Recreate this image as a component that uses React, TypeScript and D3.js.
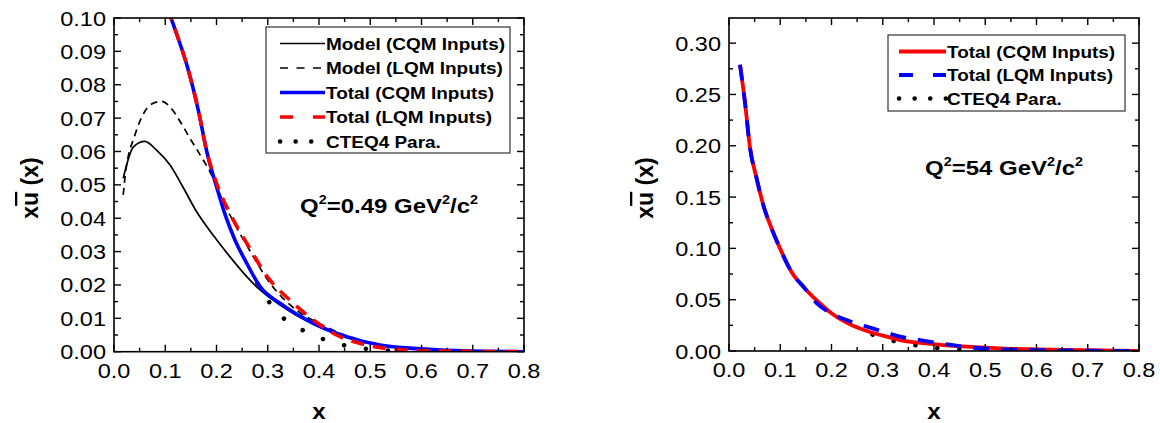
import React, { useEffect, useRef } from "react";
import * as d3 from "d3";

// ---- data ----
const xTickLabels = [0.0, 0.1, 0.2, 0.3, 0.4, 0.5, 0.6, 0.7, 0.8];
const leftYTickLabels = [0.0, 0.01, 0.02, 0.03, 0.04, 0.05, 0.06, 0.07, 0.08, 0.09, 0.1];
const rightYTickLabels = [0.0, 0.05, 0.1, 0.15, 0.2, 0.25, 0.3];

// Q^2 = 0.49 GeV^2/c^2
const leftModelCqmX = [0.018, 0.038, 0.06, 0.083, 0.109, 0.135, 0.161, 0.194, 0.226, 0.259, 0.285, 0.324, 0.389, 0.454, 0.519, 0.584, 0.65, 0.72, 0.8];
const leftModelCqmY = [0.052, 0.0614, 0.063, 0.0604, 0.056, 0.0492, 0.042, 0.0348, 0.0285, 0.0225, 0.0185, 0.014, 0.0082, 0.0043, 0.0019, 0.0009, 0.0004, 0.0001, 0];
const leftModelLqmX = [0.018, 0.022, 0.041, 0.06, 0.077, 0.093, 0.109, 0.129, 0.148, 0.168, 0.187, 0.213, 0.24, 0.27, 0.3, 0.33, 0.36, 0.4, 0.45, 0.5, 0.57, 0.65, 0.72, 0.8];
const leftModelLqmY = [0.047, 0.053, 0.065, 0.072, 0.0745, 0.075, 0.0734, 0.069, 0.064, 0.059, 0.054, 0.045, 0.037, 0.029, 0.0215, 0.016, 0.012, 0.0085, 0.005, 0.0027, 0.001, 0.0003, 0.0001, 0];
const leftTotalCqmX = [0.104, 0.125, 0.142, 0.165, 0.181, 0.2, 0.217, 0.236, 0.259, 0.285, 0.324, 0.389, 0.454, 0.519, 0.584, 0.65, 0.72, 0.8];
const leftTotalCqmY = [0.103, 0.094, 0.086, 0.072, 0.06, 0.0495, 0.041, 0.0335, 0.0265, 0.0195, 0.0145, 0.0085, 0.0045, 0.002, 0.001, 0.0004, 0.0001, 0];
const leftTotalLqmX = [0.104, 0.125, 0.142, 0.165, 0.181, 0.2, 0.226, 0.259, 0.304, 0.343, 0.389, 0.434, 0.493, 0.571, 0.65, 0.8];
const leftTotalLqmY = [0.103, 0.094, 0.086, 0.072, 0.06, 0.0505, 0.0415, 0.0325, 0.0215, 0.0155, 0.0095, 0.005, 0.002, 0.0005, 0.0002, 0];
const leftCteqX = [0.28, 0.317, 0.356, 0.396, 0.434, 0.477, 0.52, 0.56];
const leftCteqY = [0.0205, 0.012, 0.0075, 0.0045, 0.0025, 0.0012, 0.0005, 0.0001];

// Q^2 = 54 GeV^2/c^2
const rightTotalCqmX = [0.0215, 0.031, 0.041, 0.054, 0.067, 0.083, 0.0995, 0.122, 0.148, 0.174, 0.2, 0.239, 0.272, 0.3, 0.334, 0.399, 0.464, 0.529, 0.6, 0.659, 0.73, 0.8];
const rightTotalCqmY = [0.279, 0.243, 0.198, 0.168, 0.142, 0.1196, 0.1, 0.077, 0.061, 0.048, 0.0367, 0.0253, 0.019, 0.015, 0.0107, 0.0068, 0.0042, 0.0026, 0.0016, 0.001, 0.0005, 0.0002];
const rightTotalLqmX = [0.0215, 0.031, 0.041, 0.054, 0.067, 0.083, 0.0995, 0.122, 0.148, 0.171, 0.197, 0.236, 0.269, 0.308, 0.334, 0.373, 0.399, 0.444, 0.464, 0.516, 0.59, 0.7, 0.8];
const rightTotalLqmY = [0.279, 0.243, 0.198, 0.168, 0.142, 0.1196, 0.1, 0.077, 0.061, 0.0465, 0.0373, 0.029, 0.0237, 0.0178, 0.014, 0.0107, 0.0085, 0.0052, 0.0038, 0.002, 0.001, 0.0003, 0];
const rightCteqX = [0.28, 0.301, 0.343, 0.382, 0.421, 0.46, 0.5];
const rightCteqY = [0.016, 0.0124, 0.0075, 0.0042, 0.0022, 0.001, 0.0003];

const FONT = "'Liberation Sans', Arial, sans-serif";

const App = () => {
  const svgRef = useRef(null);

  useEffect(() => {
    const svg = d3.select(svgRef.current);
    svg.selectAll("*").remove();

    // scaled text helper (the figure's fonts are a bit wide)
    const label = (g, x, y, txt, size, opts: any = {}) =>
      g
        .append("text")
        .attr("transform", `translate(${x},${y}) scale(${opts.sx ?? 1},1)`)
        .attr("text-anchor", opts.anchor ?? "start")
        .attr("font-family", FONT)
        .attr("font-size", size)
        .attr("font-weight", opts.bold ? "bold" : "normal")
        .attr("fill", "#000")
        .text(txt);

    const panel = (cfg) => {
      const { id, left, right, top, bottom, yMax, yTicks, yMinorStep, yFmt } = cfg;
      const g = svg.append("g");
      const x = d3.scaleLinear().domain([0, 0.8]).range([left, right]);
      const y = d3.scaleLinear().domain([0, yMax]).range([bottom, top]);

      g.append("clipPath").attr("id", id).append("rect")
        .attr("x", left).attr("y", top).attr("width", right - left).attr("height", bottom - top);

      const curves = g.append("g").attr("clip-path", `url(#${id})`);
      const line = d3.line().x((d) => x(d[0])).y((d) => y(d[1])).curve(d3.curveMonotoneX);

      cfg.series.forEach((s) => {
        const p = curves.append("path")
          .datum(d3.zip(s.xs, s.ys))
          .attr("fill", "none")
          .attr("stroke", s.color)
          .attr("stroke-width", s.width)
          .attr("stroke-linejoin", "round")
          .attr("d", line);
        if (s.dash) p.attr("stroke-dasharray", s.dash);
        if (s.dotted) p.attr("stroke-dasharray", "0.1,22").attr("stroke-linecap", "round");
      });

      // frame
      g.append("rect")
        .attr("x", left).attr("y", top).attr("width", right - left).attr("height", bottom - top)
        .attr("fill", "none").attr("stroke", "#000").attr("stroke-width", 1.6);

      // ticks on all four sides, pointing in
      const ticks = g.append("g").attr("stroke", "#000").attr("stroke-width", 1.4);
      d3.range(0, 0.8001, 0.05).forEach((v, i) => {
        const len = i % 2 === 0 ? 7 : 4;
        ticks.append("line").attr("x1", x(v)).attr("x2", x(v)).attr("y1", bottom).attr("y2", bottom - len);
        ticks.append("line").attr("x1", x(v)).attr("x2", x(v)).attr("y1", top).attr("y2", top + len);
      });
      d3.range(0, yMax + 1e-9, yMinorStep).forEach((v, i) => {
        const len = i % 2 === 0 ? 7 : 4;
        ticks.append("line").attr("y1", y(v)).attr("y2", y(v)).attr("x1", left).attr("x2", left + len);
        ticks.append("line").attr("y1", y(v)).attr("y2", y(v)).attr("x1", right).attr("x2", right - len);
      });

      // tick labels
      xTickLabels.forEach((v) => label(g, x(v), bottom + 26, d3.format(".1f")(v), 21, { anchor: "middle", sx: 1.12 }));
      yTicks.forEach((v) => label(g, left - 8, y(v) + 7.5, d3.format(yFmt)(v), 21, { anchor: "end", sx: 1.12 }));

      // axis titles
      label(g, (left + right) / 2, 419, "x", 22, { anchor: "middle", bold: true, sx: 1.1 });
      const yt = g.append("text")
        .attr("transform", `translate(${cfg.yTitleX},188) rotate(-90)`)
        .attr("text-anchor", "middle")
        .attr("font-family", FONT)
        .attr("font-size", 23)
        .attr("font-weight", "bold");
      yt.append("tspan").text("x");
      yt.append("tspan").style("text-decoration", "overline").text("u");
      yt.append("tspan").text(" (x)");

      // Q^2 annotation
      const an = g.append("text")
        .attr("transform", `translate(${cfg.note.x},${cfg.note.y}) scale(1.2,1)`)
        .attr("font-family", FONT)
        .attr("font-size", 20)
        .attr("font-weight", "bold");
      cfg.note.parts.forEach(([t, sup]) => {
        if (sup) an.append("tspan").attr("font-size", 12).attr("dy", -9).text(t);
        else an.append("tspan").attr("dy", an.selectAll("tspan").size() ? 9 : 0).text(t);
      });

      // legend
      const lg = cfg.legend;
      g.append("rect")
        .attr("x", lg.x).attr("y", lg.y).attr("width", lg.w).attr("height", lg.h)
        .attr("fill", "#fff").attr("stroke", "#333").attr("stroke-width", 1.2);
      lg.items.forEach((it, i) => {
        const ry = lg.y + lg.first + i * lg.step;
        const l = g.append("line")
          .attr("x1", lg.x + lg.pad).attr("x2", lg.x + lg.pad + lg.len)
          .attr("y1", ry).attr("y2", ry)
          .attr("stroke", it.color).attr("stroke-width", it.width);
        if (it.dash) l.attr("stroke-dasharray", it.dash);
        if (it.dotted) l.attr("stroke-dasharray", "0.1,15.5").attr("stroke-linecap", "round");
        label(g, lg.x + lg.pad + lg.len + 1, ry + 6, it.label, 16.5, { bold: true, sx: 1.15 });
      });
    };

    panel({
      id: "clipL", left: 114, right: 524, top: 18, bottom: 351.7,
      yMax: 0.1, yTicks: leftYTickLabels, yMinorStep: 0.005, yFmt: ".2f", yTitleX: 38,
      series: [
        { xs: leftModelCqmX, ys: leftModelCqmY, color: "#000", width: 1.7 },
        { xs: leftModelLqmX, ys: leftModelLqmY, color: "#000", width: 1.7, dash: "7,5" },
        { xs: leftCteqX, ys: leftCteqY, color: "#000", width: 4.5, dotted: true },
        { xs: leftTotalCqmX, ys: leftTotalCqmY, color: "#0000ff", width: 3.6 },
        { xs: leftTotalLqmX, ys: leftTotalLqmY, color: "#ff0000", width: 3.6, dash: "13,9" },
      ],
      note: { x: 300, y: 204, parts: [["Q", false], ["2", true], ["=0.49 GeV", false], ["2", true], ["/c", false], ["2", true]] },
      legend: {
        x: 266, y: 27, w: 244, h: 126, first: 16.5, step: 24.5, pad: 14, len: 45,
        items: [
          { label: "Model (CQM Inputs)", color: "#000", width: 1.7 },
          { label: "Model (LQM Inputs)", color: "#000", width: 1.7, dash: "8,8.5" },
          { label: "Total (CQM Inputs)", color: "#0000ff", width: 3.6 },
          { label: "Total (LQM Inputs)", color: "#ff0000", width: 3.6, dash: "13,20" },
          { label: "CTEQ4 Para.", color: "#000", width: 4.5, dotted: true },
        ],
      },
    });

    panel({
      id: "clipR", left: 729, right: 1139, top: 18, bottom: 351,
      yMax: 0.3245, yTicks: rightYTickLabels, yMinorStep: 0.025, yFmt: ".2f", yTitleX: 653,
      series: [
        { xs: rightCteqX, ys: rightCteqY, color: "#000", width: 4.5, dotted: true },
        { xs: rightTotalCqmX, ys: rightTotalCqmY, color: "#ff0000", width: 3.8 },
        { xs: rightTotalLqmX, ys: rightTotalLqmY, color: "#0000ff", width: 3.8, dash: "16,12" },
      ],
      note: { x: 925, y: 166, parts: [["Q", false], ["2", true], ["=54 GeV", false], ["2", true], ["/c", false], ["2", true]] },
      legend: {
        x: 888, y: 35, w: 237, h: 76, first: 16.5, step: 23.5, pad: 11, len: 47,
        items: [
          { label: "Total (CQM Inputs)", color: "#ff0000", width: 3.8 },
          { label: "Total (LQM Inputs)", color: "#0000ff", width: 3.8, dash: "14,20" },
          { label: "CTEQ4 Para.", color: "#000", width: 4.5, dotted: true },
        ],
      },
    });
  }, []);

  return (
    <svg
      ref={svgRef}
      width={1160}
      height={423}
      style={{ position: "absolute", left: 0, top: 0, background: "#fff" }}
    ></svg>
  );
};

export default App;
